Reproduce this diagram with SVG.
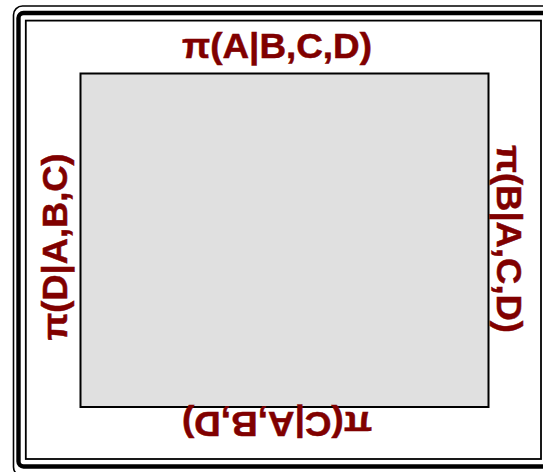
<svg xmlns="http://www.w3.org/2000/svg" width="543" height="472" viewBox="0 0 543 472">
  <style>
    .lbl { font-family: "Liberation Sans", Arial, sans-serif; font-weight: bold; font-size: 35px; fill: #800000; stroke: #800000; stroke-width: 0.5; text-anchor: middle; }
    .frame { fill: none; stroke: #000; }
  </style>
  <rect width="543" height="472" fill="#fff"/>
  <g id="frame">
    <rect class="frame" x="13.5" y="6" width="545" height="470" rx="9" stroke-width="1.6"/>
    <rect class="frame" x="18.5" y="13" width="535" height="453.5" rx="5" stroke-width="4.4"/>
    <rect class="frame" x="25.8" y="20.6" width="515.2" height="438.4" stroke-width="1.8"/>
  </g>
  <g id="box">
    <rect x="80.5" y="73.5" width="408" height="333.5" fill="#e0e0e0" stroke="#000" stroke-width="2"/>
  </g>
  <g id="labels">
    <text id="top" class="lbl" x="277" y="57.5" textLength="190" lengthAdjust="spacingAndGlyphs">π(A|B,C,D)</text>
    <text id="bottom" class="lbl" transform="translate(277,412) rotate(180)" x="0" y="0" textLength="190" lengthAdjust="spacingAndGlyphs">π(C|A,B,D)</text>
    <text id="left" class="lbl" transform="translate(66.5,247) rotate(-90)" x="0" y="0" textLength="187" lengthAdjust="spacingAndGlyphs">π(D|A,B,C)</text>
    <text id="right" class="lbl" transform="translate(496.5,239) rotate(90)" x="0" y="0" textLength="188" lengthAdjust="spacingAndGlyphs">π(B|A,C,D)</text>
  </g>
</svg>
